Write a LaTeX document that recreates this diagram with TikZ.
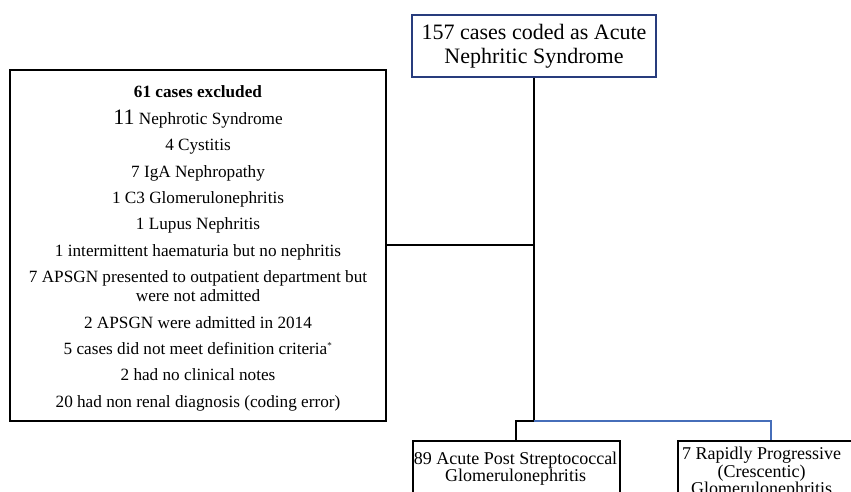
\documentclass[tikz,border=0pt]{standalone}
\usepackage{fontspec}
\setmainfont{Liberation Serif}
\definecolor{navybox}{RGB}{40,60,125}
\definecolor{blueline}{RGB}{70,110,185}
\tikzset{
  boxstyle/.style={draw=black, line width=1.8pt, rectangle, inner sep=0pt},
  topbox/.style={draw=navybox, line width=1.8pt, rectangle, inner sep=0pt, align=center,
    font=\fontsize{22}{24}\selectfont},
  connector/.style={draw=black, line width=2pt},
  blueconn/.style={draw=blueline, line width=1.6pt},
  lowtext/.style={align=center, inner sep=0pt, anchor=north, font=\fontsize{18}{17.5}\selectfont}
}
\begin{document}
\begin{tikzpicture}[x=1pt,y=-1pt]
\useasboundingbox (0,0) rectangle (851,492);
\clip (0,0) rectangle (851,492);
\fill[white] (0,0) rectangle (851,492);

\node[topbox, minimum width=244pt, minimum height=62pt] (top) at (534,46)
  {157 cases coded as Acute\\Nephritic Syndrome};

\node[boxstyle, minimum width=376pt, minimum height=351pt] (excl) at (198,245.5) {};
\node[align=center, inner sep=0pt, font=\fontsize{17.2}{19}\selectfont] (excltext) at (198,248.5)
  {\textbf{61 cases excluded}\\[7.4pt]
   {\fontsize{22}{19}\selectfont 11} Nephrotic Syndrome\\[7.4pt]
   4 Cystitis\\[7.4pt]
   7 IgA Nephropathy\\[7.4pt]
   1 C3 Glomerulonephritis\\[7.4pt]
   1 Lupus Nephritis\\[7.4pt]
   1 intermittent haematuria but no nephritis\\[7.4pt]
   7 APSGN presented to outpatient department but\\
   were not admitted\\[7.4pt]
   2 APSGN were admitted in 2014\\[7.4pt]
   5 cases did not meet definition criteria\textsuperscript{\fontsize{9}{9}\selectfont *}\\[7.4pt]
   2 had no clinical notes\\[7.4pt]
   20 had non renal diagnosis (coding error)};

\node[boxstyle, anchor=north west, minimum width=207pt, minimum height=90pt] (b89) at (412,440) {};
\node[lowtext] (b89t) at (515.5,451.7) {89 Acute Post Streptococcal\\Glomerulonephritis};

\node[boxstyle, anchor=north west, minimum width=182pt, minimum height=90pt] (b7) at (677,440) {};
\node[lowtext] (b7t) at (761.5,447.2) {7 Rapidly Progressive\\(Crescentic)\\Glomerulonephritis};

\coordinate (j) at (534,421);
\coordinate (m) at (534,245);

\draw[connector] (top.south) -- (j);
\draw[connector] (m) -- (excl.east |- m);
\draw[connector] (j) -| (b89.north);
\draw[blueconn] (j) -| ([xshift=2pt]b7.north);
\end{tikzpicture}
\end{document}
